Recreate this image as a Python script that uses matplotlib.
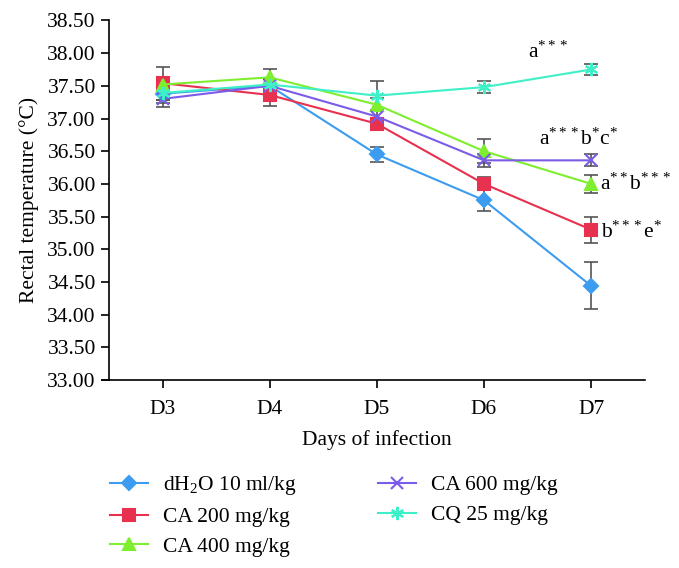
import numpy as np
import matplotlib
matplotlib.use("Agg")
import matplotlib.pyplot as plt

plt.rcParams['font.family'] = ['Liberation Serif', 'DejaVu Serif']
plt.rcParams['mathtext.fontset'] = 'custom'
plt.rcParams['mathtext.rm'] = 'Liberation Serif'
plt.rcParams['mathtext.it'] = 'Liberation Serif:italic'

days = ["D3", "D4", "D5", "D6", "D7"]

dh2o = [37.38, 37.50, 36.45, 35.75, 34.44]
dh2o_err = [0.15, 0.10, 0.12, 0.17, 0.36]
ca200 = [37.54, 37.36, 36.92, 36.00, 35.30]
ca200_err = [0.25, 0.17, 0.08, 0.10, 0.20]
ca400 = [37.52, 37.63, 37.21, 36.50, 36.00]
ca400_err = [0.10, 0.13, 0.10, 0.18, 0.14]
ca600 = [37.30, 37.50, 37.03, 36.36, 36.36]
ca600_err = [0.13, 0.10, 0.08, 0.10, 0.09]
cq = [37.39, 37.52, 37.35, 37.48, 37.75]
cq_err = [0.10, 0.08, 0.22, 0.09, 0.09]

labels = ["dH$_2$O 10 ml/kg", "CA 200 mg/kg", "CA 400 mg/kg",
          "CA 600 mg/kg", "CQ 25 mg/kg"]
colors = ['#3b9cf0', '#e8304f', '#7eee2e', '#7a5ce8', '#3ef0c8']
markers = ['D', 's', '^', 'x', (6, 2, 0)]
msizes = [7, 8.5, 9, 8.5, 9.5]

sig_labels = ["", "b$^{***}$e$^{*}$", "a$^{**}$b$^{***}$",
              "a$^{***}$b$^{*}$c$^{*}$", "a$^{***}$"]

series = [dh2o, ca200, ca400, ca600, cq]
errors = [dh2o_err, ca200_err, ca400_err, ca600_err, cq_err]

fig = plt.figure(figsize=(6.79, 5.68), dpi=100)
ax = fig.add_axes([0.1605, 0.331, 0.789, 0.633])

x = np.arange(len(days))
for vals, err, c, m, ms, lab in zip(series, errors, colors, markers, msizes, labels):
    ax.errorbar(x, vals, yerr=err, fmt='none', ecolor='#555555',
                elinewidth=1.2, capsize=5, capthick=1.2, zorder=2)
    ax.plot(x, vals, color=c, marker=m, markersize=ms, lw=1.5,
            markeredgewidth=1.5, label=lab, zorder=3)

# significance marks
ax.text(x[-1] - 0.4, cq[-1] + 0.27, sig_labels[4], fontsize=15.5, ha='center', va='center')
ax.text(x[-1] - 0.12, ca600[-1] + 0.32, sig_labels[3], fontsize=15.5, ha='center', va='center')
ax.text(x[-1] + 0.08, ca400[-1] - 0.01, sig_labels[2], fontsize=15.5, ha='left', va='center')
ax.text(x[-1] + 0.09, ca200[-1] - 0.04, sig_labels[1], fontsize=15.5, ha='left', va='center')

ax.set_xlim(-0.5, 4.5)
ax.set_ylim(33.0, 38.5)
ax.set_xticks(x)
ax.set_xticklabels(days, fontsize=15.5)
yt = np.arange(33.0, 38.51, 0.5)
ax.set_yticks(yt)
ax.set_yticklabels([f"{v:.2f}" for v in yt], fontsize=15.5)
ax.tick_params(direction='out', length=5.5, width=1.2)
ax.tick_params(axis='x', pad=9)
ax.tick_params(axis='y', pad=4)
ax.spines['top'].set_visible(False)
ax.spines['right'].set_visible(False)
for s in ['left', 'bottom']:
    ax.spines[s].set_linewidth(1.2)
ax.plot([-0.013, 0], [0, 0], transform=ax.transAxes, color='black',
        lw=1.2, clip_on=False)

ax.set_xlabel("Days of infection", fontsize=15.5, labelpad=8)
ax.set_ylabel("Rectal temperature (°C)", fontsize=15.5, labelpad=6)

h, l = ax.get_legend_handles_labels()
fig.legend(h, l, ncol=2, loc='upper left', bbox_to_anchor=(0.15, 0.18),
           frameon=False, fontsize=15.5, handlelength=1.75, columnspacing=3.75,
           labelspacing=0.45, handletextpad=0.7, borderaxespad=0)

fig.savefig("out.png", dpi=100)
